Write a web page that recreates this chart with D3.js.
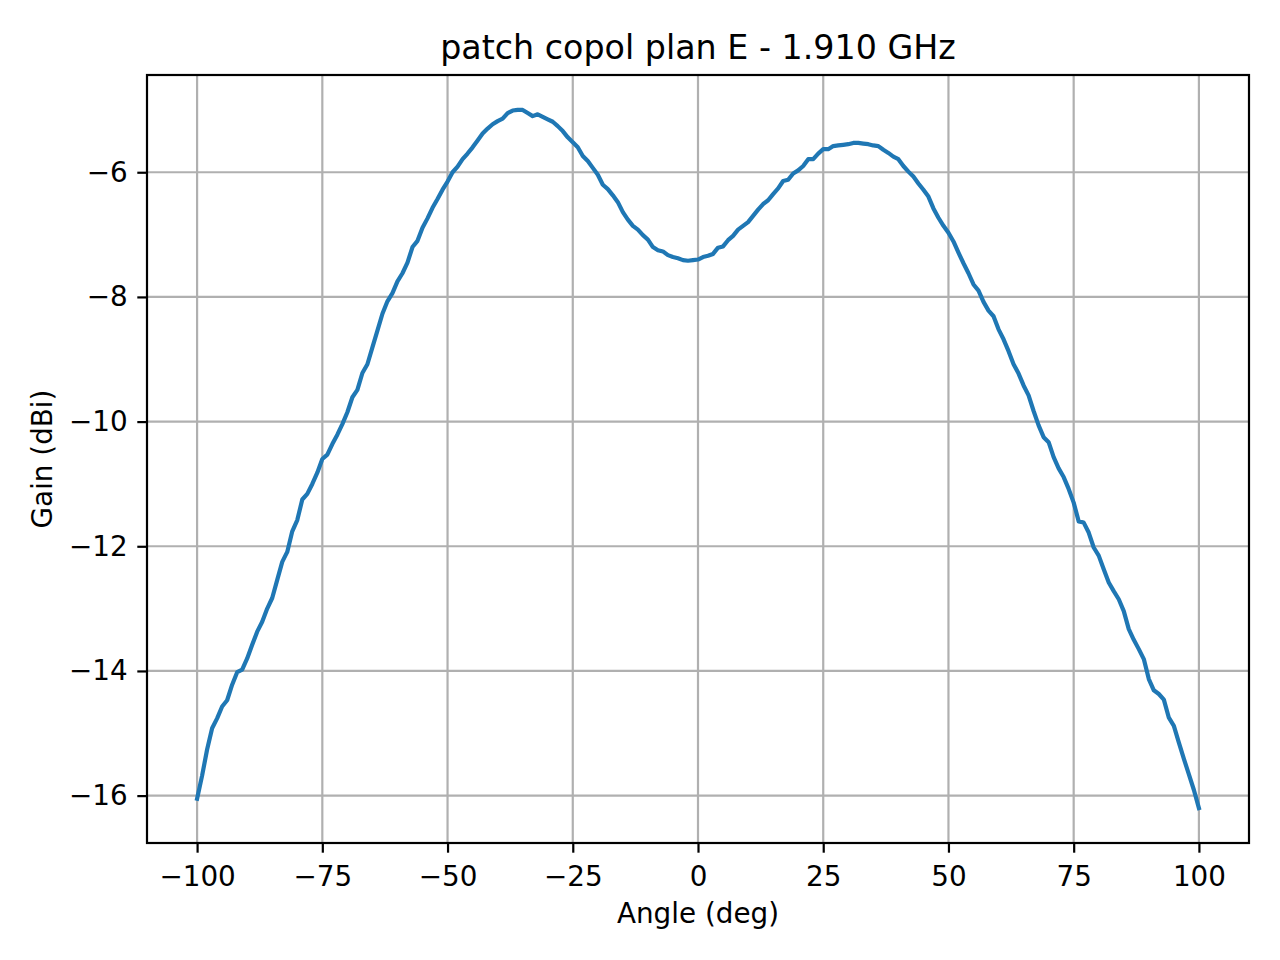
<!DOCTYPE html>
<html>
<head>
<meta charset="utf-8">
<script src="https://cdn.jsdelivr.net/npm/d3@7"></script>
<style>
  body { margin: 0; background: white; }
  text { font-family: "DejaVu Sans", sans-serif; fill: black; }
</style>
</head>
<body>
<div id="chart"></div>
<script>
// angle step of 1 deg, from -100 to 100
var startAngle = -100;
var gain = [
  -16.05, -15.68, -15.26, -14.92, -14.76, -14.57, -14.47, -14.22, -14.02, -13.98,
  -13.80, -13.58, -13.37, -13.21, -13.00, -12.83, -12.54, -12.25, -12.09, -11.76,
  -11.58, -11.25, -11.16, -11.00, -10.82, -10.60, -10.53, -10.36, -10.21, -10.04,
  -9.85, -9.61, -9.49, -9.22, -9.08, -8.81, -8.54, -8.27, -8.07, -7.94,
  -7.75, -7.62, -7.45, -7.20, -7.10, -6.89, -6.74, -6.57, -6.43, -6.28,
  -6.15, -6.00, -5.91, -5.79, -5.70, -5.60, -5.49, -5.38, -5.30, -5.23,
  -5.18, -5.14, -5.05, -5.01, -5.00, -5.00, -5.05, -5.10, -5.07, -5.11,
  -5.15, -5.19, -5.26, -5.34, -5.44, -5.52, -5.60, -5.74, -5.82, -5.93,
  -6.04, -6.20, -6.27, -6.37, -6.48, -6.64, -6.76, -6.86, -6.92, -7.01,
  -7.08, -7.20, -7.25, -7.27, -7.33, -7.36, -7.38, -7.41, -7.42, -7.41,
  -7.40,
  -7.36, -7.34, -7.31, -7.21, -7.19, -7.09, -7.02, -6.92, -6.86, -6.80,
  -6.70, -6.60, -6.51, -6.45, -6.35, -6.26, -6.14, -6.12, -6.02, -5.97,
  -5.90, -5.79, -5.79, -5.70, -5.63, -5.63, -5.58, -5.57, -5.56, -5.55,
  -5.53, -5.53, -5.54, -5.55, -5.57, -5.58, -5.64, -5.69, -5.75, -5.79,
  -5.90, -5.99, -6.07, -6.18, -6.28, -6.39, -6.58, -6.73, -6.86, -6.97,
  -7.11, -7.29, -7.46, -7.62, -7.80, -7.90, -8.08, -8.22, -8.31, -8.52,
  -8.68, -8.87, -9.08, -9.23, -9.42, -9.58, -9.83, -10.06, -10.25, -10.33,
  -10.57, -10.75, -10.89, -11.08, -11.30, -11.60, -11.62, -11.78, -12.02, -12.15,
  -12.37, -12.58, -12.72, -12.85, -13.04, -13.33, -13.50, -13.65, -13.81, -14.13,
  -14.31, -14.37, -14.46, -14.75, -14.88, -15.15, -15.41, -15.66, -15.91, -16.20
];
var xTicks = [-100, -75, -50, -25, 0, 25, 50, 75, 100];
var yTicks = [-16, -14, -12, -10, -8, -6];

var titleText = "patch copol plan E - 1.910 GHz";
var xLabel = "Angle (deg)";
var yLabel = "Gain (dBi)";

function init()
{
  var width = 1280, height = 960;
  var left = 147, right = 1249, top = 75, bottom = 843;
  var tickLen = 9.7, tickPad = 9.7;

  var dataset = gain.map(function(g, i) { return {angle: startAngle + i, gain: g}; });

  var svg = d3.select("#chart")
    .append("svg")
    .attr("width", width)
    .attr("height", height);

  svg.append("rect")
    .attr("width", width)
    .attr("height", height)
    .style("fill", "white");

  // matplotlib style 5% margins
  var xMin = d3.min(dataset, function(d) {return d.angle;});
  var xMax = d3.max(dataset, function(d) {return d.angle;});
  var yMin = d3.min(dataset, function(d) {return d.gain;});
  var yMax = d3.max(dataset, function(d) {return d.gain;});
  var xm = (xMax - xMin) * 0.05, ym = (yMax - yMin) * 0.05;

  var xScale = d3.scaleLinear()
    .domain([xMin - xm, xMax + xm])
    .range([left, right]);

  var yScale = d3.scaleLinear()
    .domain([yMin - ym, yMax + ym])
    .range([bottom, top]);

  // grid
  var grid = svg.append("g");
  grid.selectAll("line.gx")
    .data(xTicks)
    .enter()
    .append("line")
      .attr("x1", function(d) {return xScale(d);})
      .attr("x2", function(d) {return xScale(d);})
      .attr("y1", top)
      .attr("y2", bottom);
  grid.selectAll("line.gy")
    .data(yTicks)
    .enter()
    .append("line")
      .attr("y1", function(d) {return yScale(d);})
      .attr("y2", function(d) {return yScale(d);})
      .attr("x1", left)
      .attr("x2", right);
  grid.selectAll("line")
    .style("stroke", "#b0b0b0")
    .style("stroke-width", "2.2");

  var line = d3.line()
    .x(function(d) {return xScale(d.angle);})
    .y(function(d) {return yScale(d.gain);});

  svg.append("path")
    .datum(dataset)
    .attr("d", line)
    .style("fill", "none")
    .style("stroke", "#1f77b4")
    .style("stroke-width", "4.2")
    .style("stroke-linejoin", "round")
    .style("stroke-linecap", "square");

  var xAxis = d3.axisBottom(xScale)
    .tickValues(xTicks)
    .tickSize(tickLen)
    .tickPadding(tickPad + 4)
    .tickSizeOuter(0)
    .tickFormat(function(d) {return String(d).replace("-", "\u2212");});

  var yAxis = d3.axisLeft(yScale)
    .tickValues(yTicks)
    .tickSize(tickLen)
    .tickPadding(tickPad)
    .tickSizeOuter(0)
    .tickFormat(function(d) {return String(d).replace("-", "\u2212");});

  var gx = svg.append("g")
    .attr("transform", "translate(0," + bottom + ")")
    .call(xAxis);
  var gy = svg.append("g")
    .attr("transform", "translate(" + left + ",0)")
    .call(yAxis);

  [gx, gy].forEach(function(g) {
    g.select(".domain").remove();
    g.selectAll(".tick line").style("stroke", "black").style("stroke-width", "2.2");
    g.selectAll(".tick text")
      .style("font-family", "'DejaVu Sans', sans-serif")
      .style("font-size", "27.8px")
      .style("fill", "black");
  });

  // frame
  svg.append("rect")
    .attr("x", left)
    .attr("y", top)
    .attr("width", right - left)
    .attr("height", bottom - top)
    .style("fill", "none")
    .style("stroke", "black")
    .style("stroke-width", "2.2");

  svg.append("text")
    .attr("x", (left + right) / 2)
    .attr("y", 59)
    .style("text-anchor", "middle")
    .style("font-size", "33.3px")
    .text(titleText);

  svg.append("text")
    .attr("x", (left + right) / 2)
    .attr("y", 923)
    .style("text-anchor", "middle")
    .style("font-size", "27.8px")
    .text(xLabel);

  svg.append("text")
    .attr("transform", "translate(52," + ((top + bottom) / 2) + ") rotate(-90)")
    .style("text-anchor", "middle")
    .style("font-size", "27.8px")
    .text(yLabel);
}

window.onload = init;
</script>
</body>
</html>
